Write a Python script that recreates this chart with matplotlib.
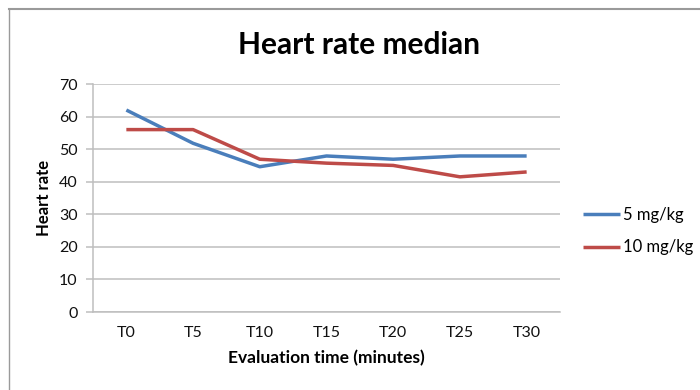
import matplotlib
matplotlib.use("Agg")
import matplotlib.pyplot as plt
from matplotlib.lines import Line2D

plt.rcParams['font.family'] = ['Lato', 'DejaVu Sans']

categories = ["T0", "T5", "T10", "T15", "T20", "T25", "T30"]
dose_5 = [62, 51.8, 44.6, 47.9, 46.9, 47.9, 47.9]
dose_10 = [56, 56, 46.9, 45.7, 45.0, 41.5, 43.0]
series_labels = ["5 mg/kg", "10 mg/kg"]
yticks = [0, 10, 20, 30, 40, 50, 60, 70]

fig = plt.figure(figsize=(7, 3.9), dpi=100)
ax = fig.add_axes([93 / 700, 1 - 312 / 390, (560 - 93) / 700, (312 - 84) / 390])

x = list(range(len(categories)))
blue = "#4A7EBB"
red = "#BE4B48"
l1, = ax.plot(x, dose_5, color=blue, lw=2.5, solid_capstyle="butt", zorder=3)
l2, = ax.plot(x, dose_10, color=red, lw=2.5, solid_capstyle="butt", zorder=3)

ax.set_xlim(-0.5, len(categories) - 0.5)
ax.set_ylim(0, 70)
ax.set_yticks(yticks)
ax.set_xticks(x)
ax.set_xticklabels(categories)
ax.yaxis.grid(True, color="#BEBEBE", lw=1.1)
ax.set_axisbelow(True)
for side in ["top", "right"]:
    ax.spines[side].set_visible(False)
ax.spines["left"].set_color("#BEBEBE")
ax.spines["left"].set_linewidth(1.1)
ax.spines["bottom"].set_color("#BEBEBE")
ax.spines["bottom"].set_linewidth(1.1)
ax.tick_params(axis="y", length=5, color="#BEBEBE", width=1.1, labelsize=11.5, pad=6, labelcolor="#111111")
ax.tick_params(axis="x", length=0, labelsize=11.5, pad=10, labelcolor="#111111")

ax.set_xlabel("Evaluation time (minutes)", fontsize=12.5, fontweight="bold", labelpad=7)
ax.set_ylabel("Heart rate", fontsize=12, fontweight="bold", labelpad=5)
fig.text(359 / 700, 1 - 45 / 390, "Heart rate median",
         ha="center", va="center", fontsize=21.5, fontweight="bold")

fig.legend([l1, l2], series_labels, loc="center left",
           bbox_to_anchor=(568 / 700, 1 - 231 / 390), frameon=False,
           fontsize=12, handlelength=2.2, handletextpad=0.2, labelspacing=1.0)

# outer frame (top and left edges)
fig.add_artist(Line2D([9 / 700, 1], [1 - 9 / 390, 1 - 9 / 390], color="#9A9A9A", lw=1.5))
fig.add_artist(Line2D([9 / 700, 9 / 700], [0, 1 - 9 / 390], color="#9A9A9A", lw=1.0))

fig.savefig("out.png", dpi=100)
